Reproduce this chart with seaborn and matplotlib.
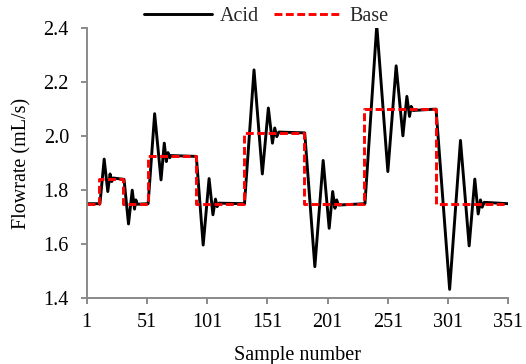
import matplotlib
matplotlib.use("Agg")
import matplotlib.pyplot as plt
import seaborn as sns
import pandas as pd

# Acid flowrate (vertices)
acid_x = [1, 12, 15.5, 18.5, 20.4, 21.8, 23, 32, 35.7, 38.8, 40.7, 41.8, 43, 52,
          57.4, 62.7, 65.4, 67.1, 68.5, 70, 71, 92, 97.7, 102.6, 105.8, 107.9, 109.3,
          111, 132, 139.9, 146.8, 151.8, 155.2, 157.1, 158.8, 160.5, 182, 190.4,
          197.3, 202.3, 205.2, 207.1, 208.5, 210, 232, 241.8, 251, 257.9, 263.5,
          266.8, 269, 270.4, 272, 291, 302.3, 311.3, 318.5, 323.2, 326, 327.9,
          329.3, 331, 351]
acid_y = [1.75, 1.75, 1.915, 1.795, 1.86, 1.832, 1.845, 1.84, 1.675, 1.80, 1.73,
          1.764, 1.748, 1.75, 2.083, 1.838, 1.974, 1.906, 1.939, 1.92, 1.928, 1.925,
          1.597, 1.843, 1.709, 1.767, 1.739, 1.752, 1.75, 2.245, 1.86, 2.104, 1.974,
          2.03, 1.998, 2.015, 2.012, 1.517, 1.91, 1.659, 1.795, 1.733, 1.764, 1.745,
          1.75, 2.41, 1.869, 2.26, 2.001, 2.147, 2.073, 2.11, 2.095, 2.10, 1.433,
          1.984, 1.594, 1.841, 1.712, 1.764, 1.737, 1.755, 1.75]

# Base flowrate (step set-points)
base_x = [1, 11.5, 31.5, 51.5, 91.5, 131.5, 181.5, 231.5, 291, 351]
base_y = [1.75, 1.84, 1.75, 1.925, 1.75, 2.01, 1.75, 2.10, 1.75, 1.75]

x_ticks = [1, 51, 101, 151, 201, 251, 301, 351]
y_ticks = [1.4, 1.6, 1.8, 2.0, 2.2, 2.4]

sns.set_theme(style="white")
plt.rcParams['font.family'] = ['Liberation Serif', 'DejaVu Serif']

fig = plt.figure(figsize=(5.26, 3.64), dpi=100)
ax = fig.add_axes([86.7 / 526, 1 - 298.3 / 364, (508.3 - 86.7) / 526, (298.3 - 28) / 364])

acid_df = pd.DataFrame({"x": acid_x, "y": acid_y})
base_df = pd.DataFrame({"x": base_x, "y": base_y})

sns.lineplot(data=acid_df, x="x", y="y", ax=ax, color="black", lw=2.1,
             errorbar=None, label="Acid", sort=False)
sns.lineplot(data=base_df, x="x", y="y", ax=ax, color="#ff0000", lw=2.1,
             errorbar=None, label="Base", drawstyle="steps-post",
             linestyle=(0, (2.7, 1.2)), sort=False)

ax.set_xlim(1, 351)
ax.set_ylim(1.4, 2.4)
ax.set_xticks(x_ticks)
ax.set_yticks(y_ticks)
ax.set_yticklabels([f"{v:.1f}" for v in y_ticks])
ax.set_xticklabels([str(v) for v in x_ticks])

gray = "#8a8a8a"
for s in ["top", "right"]:
    ax.spines[s].set_visible(False)
for s in ["left", "bottom"]:
    ax.spines[s].set_color(gray)
    ax.spines[s].set_linewidth(1.4)
ax.tick_params(axis="both", which="major", direction="out", length=4.3, width=1.4,
               color=gray, labelsize=14.5, labelcolor="black")
ax.tick_params(axis="y", pad=8.5)
ax.tick_params(axis="x", pad=6)
ax.tick_params(left=True, bottom=True)

ax.set_xlabel("Sample number", fontsize=14.5, color="black", labelpad=10.5)
ax.set_ylabel("Flowrate (mL/s)", fontsize=14.5, color="black", labelpad=9)

ax.legend(loc="upper center", bbox_to_anchor=(0.506, 1.03), bbox_transform=fig.transFigure,
          ncol=2, frameon=False, fontsize=14.5, handlelength=3.4, handletextpad=0.35,
          columnspacing=0.75)

fig.savefig("out.png", dpi=100)
